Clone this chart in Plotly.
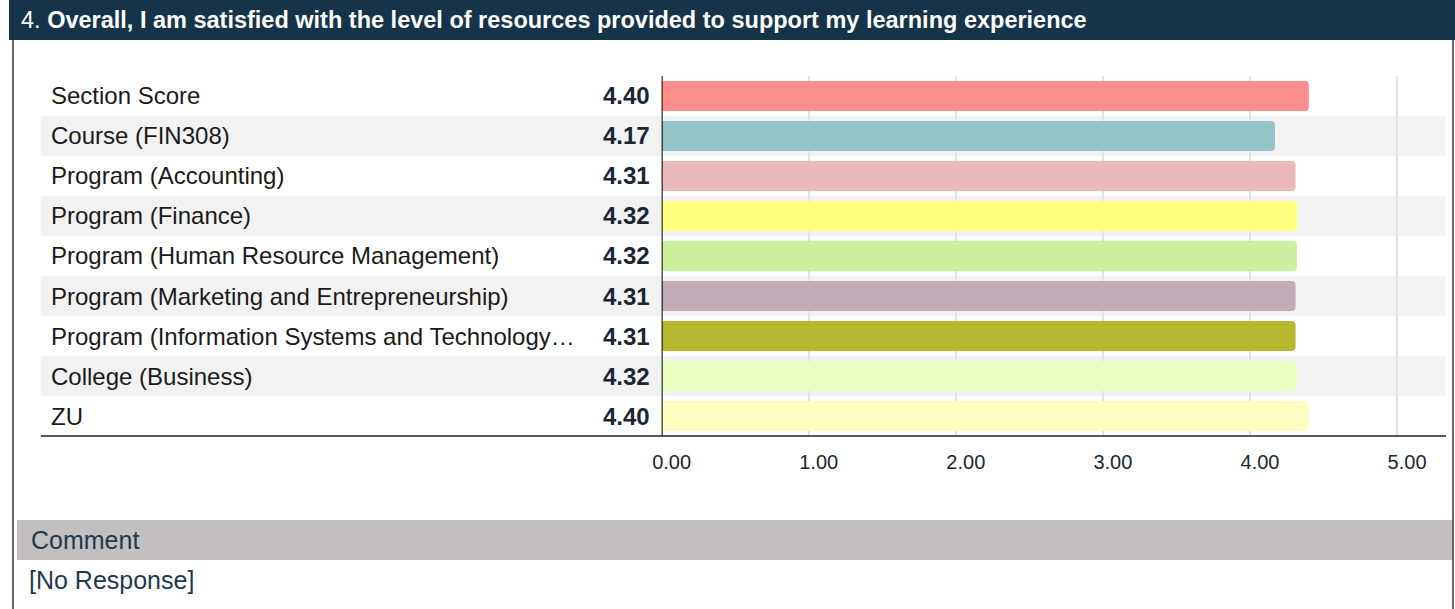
import plotly.graph_objects as go

title_num = "4."
title_text = "Overall, I am satisfied with the level of resources provided to support my learning experience"
categories = [
    "Section Score",
    "Course (FIN308)",
    "Program (Accounting)",
    "Program (Finance)",
    "Program (Human Resource Management)",
    "Program (Marketing and Entrepreneurship)",
    "Program (Information Systems and Technology…",
    "College (Business)",
    "ZU",
]
values = [4.40, 4.17, 4.31, 4.32, 4.32, 4.31, 4.31, 4.32, 4.40]
bar_colors = ["#FD8C8C", "#96C5C7", "#EBB8BC", "#FFFF7F", "#CDF09E",
              "#C4ABB8", "#B8B732", "#EAFCC0", "#FDFDC0"]
tick_vals = [0, 1, 2, 3, 4, 5]
tick_text = ["0.00", "1.00", "2.00", "3.00", "4.00", "5.00"]
comment_header = "Comment"
comment_text = "[No Response]"

W, H = 1455, 609
def px(x): return x / W
def py(y): return 1 - y / H

FONT = "Liberation Sans, Arial, sans-serif"
ys = list(range(len(categories)))

fig = go.Figure()
fig.add_trace(go.Bar(
    x=values, y=ys, orientation="h",
    marker=dict(color=bar_colors, cornerradius=4, line=dict(width=0)),
    width=0.75, hoverinfo="skip", showlegend=False,
))

shapes = []
# header bar
shapes.append(dict(type="rect", xref="paper", yref="paper", x0=0, x1=1, y0=py(40), y1=1,
                   fillcolor="#15344A", line=dict(width=0), layer="below"))
# side borders
shapes.append(dict(type="line", xref="paper", yref="paper", x0=px(4), x1=px(4), y0=0, y1=py(40),
                   line=dict(color="#6b6566", width=2)))
shapes.append(dict(type="line", xref="paper", yref="paper", x0=px(1453), x1=px(1453), y0=0, y1=py(40),
                   line=dict(color="#6b6566", width=2)))
# row bands
for i in ys:
    if i % 2 == 1:
        shapes.append(dict(type="rect", xref="paper", yref="y", x0=px(32), x1=px(1445),
                           y0=i - 0.5, y1=i + 0.5, fillcolor="#F2F2F2",
                           line=dict(width=0), layer="below"))
# bottom axis line
shapes.append(dict(type="line", xref="paper", yref="paper", x0=px(32), x1=px(1446),
                   y0=py(436), y1=py(436), line=dict(color="#4F5966", width=2)))
# zero line
shapes.append(dict(type="line", xref="x", yref="paper", x0=0, x1=0,
                   y0=py(436), y1=py(76), line=dict(color="#000000", width=2)))
# comment bar
shapes.append(dict(type="rect", xref="paper", yref="paper", x0=px(8), x1=px(1452),
                   y0=py(560), y1=py(520), fillcolor="#C4BFBF", line=dict(width=0), layer="below"))

annotations = []
annotations.append(dict(xref="paper", yref="paper", x=px(10), y=py(20), xanchor="left", yanchor="middle",
                        text=f"{title_num} <b>{title_text}</b>", showarrow=False,
                        font=dict(family=FONT, size=23.5, color="#FFFFFF")))
for i, (c, v) in enumerate(zip(categories, values)):
    annotations.append(dict(xref="paper", yref="y", x=px(40), y=i, xanchor="left", yanchor="middle",
                            text=c, showarrow=False, font=dict(family=FONT, size=24, color="#1A1A1A")))
    annotations.append(dict(xref="paper", yref="y", x=px(647), y=i, xanchor="right", yanchor="middle",
                            text=f"<b>{v:.2f}</b>", showarrow=False,
                            font=dict(family=FONT, size=24, color="#1A2733")))
annotations.append(dict(xref="paper", yref="paper", x=px(20), y=py(540), xanchor="left", yanchor="middle",
                        text=comment_header, showarrow=False,
                        font=dict(family=FONT, size=25, color="#1D3A4F")))
annotations.append(dict(xref="paper", yref="paper", x=px(18), y=py(580), xanchor="left", yanchor="middle",
                        text=comment_text, showarrow=False,
                        font=dict(family=FONT, size=25, color="#1D3A4F")))

fig.update_layout(
    width=W, height=H, margin=dict(l=0, r=0, t=0, b=0),
    paper_bgcolor="#FFFFFF", plot_bgcolor="rgba(0,0,0,0)",
    shapes=shapes, annotations=annotations,
    bargap=0.25,
    xaxis=dict(domain=[px(656.7), px(1445.7)], range=[0, (1445.7 - 656.7) / 148.0],
               tickvals=tick_vals, ticktext=tick_text, showgrid=True, gridcolor="#E3E3E3",
               gridwidth=2, zeroline=False, showline=False, ticks="",
               tickfont=dict(family=FONT, size=20, color="#1A2733"),
               ticklabelshift=10, ticklabelstandoff=12, fixedrange=True),
    yaxis=dict(domain=[py(436), py(76)], range=[len(categories) - 0.5, -0.5],
               showticklabels=False, showgrid=False, zeroline=False, showline=False, ticks="",
               fixedrange=True),
)

fig.write_html("out.html", config={"displayModeBar": False},
               post_script="document.body.style.margin='0';document.body.style.overflow='hidden';")
